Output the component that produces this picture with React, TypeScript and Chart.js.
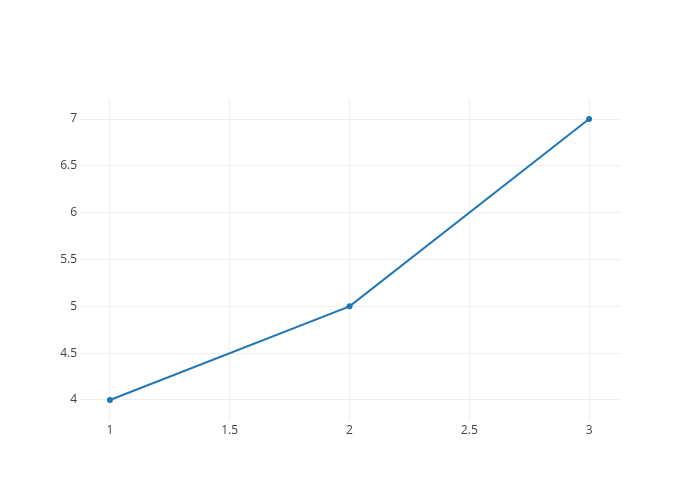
import React, { useEffect, useRef } from "react";
import { Chart, registerables } from "chart.js";

Chart.register(...registerables);

const xValues = [1, 2, 3];
const yValues = [4, 5, 7];
const xTicks = [1, 1.5, 2, 2.5, 3];
const yTicks = [4, 4.5, 5, 5.5, 6, 6.5, 7];

export default function App() {
  const ref = useRef<HTMLCanvasElement | null>(null);
  useEffect(() => {
    document.body.style.margin = "0";
    const ctx = ref.current!;
    const font = { family: "'Open Sans', sans-serif", size: 12 };
    const chart = new Chart(ctx, {
      type: "line",
      data: {
        datasets: [
          {
            data: xValues.map((x, i) => ({ x, y: yValues[i] })),
            borderColor: "#1f77b4",
            backgroundColor: "#1f77b4",
            borderWidth: 2,
            pointRadius: 3,
            pointBorderWidth: 0,
            pointBackgroundColor: "#1f77b4",
            tension: 0,
          },
        ],
      },
      options: {
        animation: false,
        responsive: false,
        layout: { padding: { top: 100, right: 80, left: 0, bottom: 0 } },
        plugins: { legend: { display: false }, tooltip: { enabled: false } },
        scales: {
          x: {
            type: "linear",
            min: 0.875,
            max: 3.129,
            border: { display: false },
            grid: { color: "#eeeeee", drawTicks: false, lineWidth: 1 },
            ticks: {
              color: "#444444",
              font,
              padding: 3,
              maxRotation: 0,
              autoSkip: false,
              callback: (v: any) => String(v),
            },
            afterBuildTicks: (s: any) => {
              s.ticks = xTicks.map((v) => ({ value: v }));
            },
            afterFit: (s: any) => {
              s.height = 80;
            },
          },
          y: {
            type: "linear",
            min: 3.786,
            max: 7.203,
            border: { display: false },
            grid: { color: "#eeeeee", drawTicks: false, lineWidth: 1 },
            ticks: {
              color: "#444444",
              font,
              padding: 3,
              autoSkip: false,
              callback: (v: any) => String(v),
            },
            afterBuildTicks: (s: any) => {
              s.ticks = yTicks.map((v) => ({ value: v }));
            },
            afterFit: (s: any) => {
              s.width = 80;
            },
          },
        },
      },
    });
    return () => chart.destroy();
  }, []);
  return (
    <div style={{ position: "absolute", left: 0, top: 0, width: 700, height: 500, background: "#fff" }}>
      <canvas ref={ref} width={700} height={500} style={{ width: 700, height: 500 }} />
    </div>
  );
}
